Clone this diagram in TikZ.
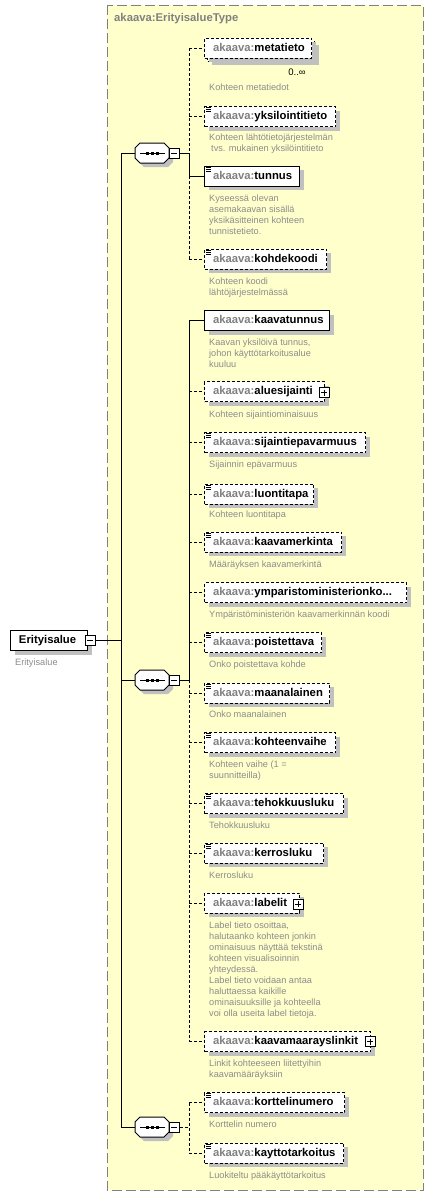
\documentclass[tikz,border=0pt]{standalone}
\usepackage{fontspec}
\setmainfont{Liberation Sans}
\usetikzlibrary{shadows,calc}
\definecolor{bgyellow}{RGB}{255,255,204}
\definecolor{bordergrey}{RGB}{128,128,128}
\definecolor{prefixc}{RGB}{128,128,128}
\definecolor{descc}{RGB}{140,140,140}
\definecolor{shadowc}{RGB}{192,192,192}
\tikzset{
  elbase/.style={draw=black, fill=white, anchor=west, minimum height=20pt, inner xsep=0pt, inner ysep=0pt,
    align=left, line width=1pt, text height=8.5pt, text depth=2.5pt,
    font=\fontsize{11.3}{13}\selectfont\bfseries},
  el/.style={elbase, drop shadow={shadow xshift=4pt, shadow yshift=-4pt, opacity=1, fill=shadowc}},
  opt/.style={dash pattern=on 3pt off 2pt},
  conn/.style={line width=1pt},
  desc/.style={anchor=north west, inner sep=0pt, align=left, text=descc, font=\fontsize{9.2}{11}\selectfont},
  plusbox/.style={draw, fill=white, line width=1pt, minimum size=10pt, inner sep=0pt,
    path picture={\draw[line width=1pt] ([xshift=2pt]path picture bounding box.west) -- ([xshift=-2pt]path picture bounding box.east);
      \draw[line width=1pt] ([yshift=-2pt]path picture bounding box.north) -- ([yshift=2pt]path picture bounding box.south);}},
  minusbox/.style={draw, fill=white, line width=1pt, minimum size=10pt, inner sep=0pt,
    path picture={\draw[line width=1pt] ([xshift=2pt]path picture bounding box.west) -- ([xshift=-2pt]path picture bounding box.east);}},
}
\newcommand\ak[1]{\mbox{\hspace*{8.5pt}{\color{prefixc}akaava:}#1}}
\newcommand\dstrut{\rule{0pt}{7pt}}
\newcommand\elm[5]{% name, cy, width, style, label
  \node[el,#4,text width=#3pt] (#1) at (204,#2) {\ak{#5}};
  \coordinate (b-#1) at (189,#2);
  \draw[conn,#4] (b-#1) -- (#1.west);
}
\newcommand\icn[1]{%
  \foreach \d in {1.5,3.5,5.5} \draw[line width=0.9pt] ($(#1.north west)+(2,\d)$) -- ++(5,0);
}
\newcommand\seqgrp[3]{%
  \begin{scope}[shift={(#2,#3)}]
    \fill[shadowc] (-13,-1) -- (-8,-6) -- (16,-6) -- (21,-1) -- (21,9) -- (16,14) -- (-8,14) -- (-13,9) -- cycle;
    \draw[line width=1pt, fill=white] (-17,-5) -- (-12,-10) -- (12,-10) -- (17,-5) -- (17,5) -- (12,10) -- (-12,10) -- (-17,5) -- cycle;
    \draw[line width=1pt] (-12,0) -- (13,0);
    \fill (-6.5,-1.5) rectangle ++(3,3);
    \fill (-1.5,-1.5) rectangle ++(3,3);
    \fill (3.5,-1.5) rectangle ++(3,3);
  \end{scope}
  \node[inner sep=0pt, minimum width=34pt, minimum height=20pt] (#1) at (#2,#3) {};
  \node[minusbox] (#1m) at (#2+22,#3) {};
}
\begin{document}
\begin{tikzpicture}[x=1pt,y=-1pt]
\fill[white] (0,0) rectangle (434,1197);
\useasboundingbox (0,0) rectangle (434,1197);
\draw[bordergrey, dash pattern=on 10pt off 4pt, fill=bgyellow, line width=1pt] (107,5) rectangle (423,1190);
\node[anchor=west, text=prefixc, inner sep=0pt, font=\fontsize{11.3}{13}\selectfont\bfseries] (title) at (114,19) {akaava:ErityisalueType};

% root
\node[el,text width=77pt] (root) at (10,640.5) {\mbox{\hspace*{8.5pt}Erityisalue}};
\node[minusbox] (rootm) at (90,640.5) {};
\node[desc] (d-root) at (15,658.5) {\dstrut Erityisalue};

% sequences
\seqgrp{s1}{152}{153}
\seqgrp{s2}{152}{680}
\seqgrp{s3}{152}{1127}
\coordinate (t1) at (121,153);
\coordinate (t2) at (121,680);
\coordinate (t3) at (121,1127);
\coordinate (tr) at (121,640.5);
\draw[conn] (t1) -- (t3);
\draw[conn] (t1) -- (s1.west);
\draw[conn] (t2) -- (s2.west);
\draw[conn] (t3) -- (s3.west);
\draw[conn] (rootm.east) -- (tr);
\coordinate (b1) at (189,153);
\coordinate (b2) at (189,680);
\coordinate (b3) at (189,1127);
\draw[conn] (s1m.east) -- (b1);
\draw[conn] (s2m.east) -- (b2);
\draw[conn,opt] (s3m.east) -- (b3);

% sequence 1
\node[elbase,opt,text width=107pt, drop shadow={shadow xshift=4pt, shadow yshift=-4pt, opacity=1, fill=shadowc}] (metatieto-back) at (207,51) {};
\elm{metatieto}{48}{107}{opt}{metatieto}
\node[inner sep=0pt, font=\fontsize{9.5}{11}\selectfont] (mult) at (297,72) {0..∞};
\node[desc] (d-metatieto) at (209,83.5) {\dstrut Kohteen metatiedot};

\elm{yksilointitieto}{116.7}{131}{opt}{yksilointitieto}
\icn{yksilointitieto}
\node[desc] (d-yksilointitieto) at (209,133.5) {\dstrut Kohteen lähtötietojärjestelmän\\\hspace*{2pt}tvs. mukainen yksilöintitieto};

\elm{tunnus}{176}{95}{solid}{tunnus}
\icn{tunnus}
\node[desc] (d-tunnus) at (209,194.5) {\dstrut Kyseessä olevan\\asemakaavan sisällä\\yksikäsitteinen kohteen\\tunnistetieto.};

\elm{kohdekoodi}{259.3}{122}{opt}{kohdekoodi}
\icn{kohdekoodi}
\node[desc] (d-kohdekoodi) at (209,277.2) {\dstrut Kohteen koodi\\lähtöjärjestelmässä};

\draw[conn,opt] (b-metatieto) -- (b1);
\draw[conn] (b1) -- (b-tunnus);
\draw[conn,opt] (b-tunnus) -- (b-kohdekoodi);

% sequence 2
\elm{kaavatunnus}{320.7}{125}{solid}{kaavatunnus}
\node[desc] (d-kaavatunnus) at (209,338.2) {\dstrut Kaavan yksilöivä tunnus,\\johon käyttötarkoitusalue\\kuuluu};

\elm{aluesijainti}{391.7}{120}{opt}{aluesijainti}
\node[plusbox] (aluesijainti-p) at ($(aluesijainti.east)+(-1,1)$) {};
\node[desc] (d-aluesijainti) at (209,410.5) {\dstrut Kohteen sijaintiominaisuus};

\elm{sijaintiepavarmuus}{442.7}{161}{opt}{sijaintiepavarmuus}
\icn{sijaintiepavarmuus}
\node[desc] (d-sijaintiepavarmuus) at (209,459.8) {\dstrut Sijainnin epävarmuus};

\elm{luontitapa}{494}{109}{opt}{luontitapa}
\icn{luontitapa}
\node[desc] (d-luontitapa) at (209,509.8) {\dstrut Kohteen luontitapa};

\elm{kaavamerkinta}{542}{137}{opt}{kaavamerkinta}
\icn{kaavamerkinta}
\node[desc] (d-kaavamerkinta) at (209,559.8) {\dstrut Määräyksen kaavamerkintä};

\elm{ymparisto}{592.5}{202}{opt}{ymparistoministerionko...}
\node[desc] (d-ymparisto) at (209,610.5) {\dstrut Ympäristöministeriön kaavamerkinnän koodi};

\elm{poistettava}{642.7}{117}{opt}{poistettava}
\icn{poistettava}
\node[desc] (d-poistettava) at (209,660.5) {\dstrut Onko poistettava kohde};

\elm{maanalainen}{693}{125}{opt}{maanalainen}
\icn{maanalainen}
\node[desc] (d-maanalainen) at (209,709.8) {\dstrut Onko maanalainen};

\elm{kohteenvaihe}{742.5}{131}{opt}{kohteenvaihe}
\icn{kohteenvaihe}
\node[desc] (d-kohteenvaihe) at (209,760.5) {\dstrut Kohteen vaihe (1 =\\suunnitteilla)};

\elm{tehokkuusluku}{803.7}{139}{opt}{tehokkuusluku}
\icn{tehokkuusluku}
\node[desc] (d-tehokkuusluku) at (209,821.2) {\dstrut Tehokkuusluku};

\elm{kerrosluku}{853}{119}{opt}{kerrosluku}
\icn{kerrosluku}
\node[desc] (d-kerrosluku) at (209,871.2) {\dstrut Kerrosluku};

\elm{labelit}{903}{95}{opt}{labelit}
\node[plusbox] (labelit-p) at ($(labelit.east)+(-2,1)$) {};
\node[desc] (d-labelit) at (209,921.5) {\dstrut Label tieto osoittaa,\\halutaanko kohteen jonkin\\ominaisuus näyttää tekstinä\\kohteen visualisoinnin\\yhteydessä.\\Label tieto voidaan antaa\\haluttaessa kaikille\\ominaisuuksille ja kohteella\\voi olla useita label tietoja.};

\elm{kaavamaarayslinkit}{1041.7}{166}{opt}{kaavamaarayslinkit}
\node[plusbox] (kaavamaarayslinkit-p) at ($(kaavamaarayslinkit.east)+(-1,0)$) {};
\node[desc] (d-kaavamaarayslinkit) at (209,1059.5) {\dstrut Linkit kohteeseen liitettyihin\\kaavamääräyksiin};

\draw[conn] (b-kaavatunnus) -- (b2);
\draw[conn,opt] (b2) -- (b-kaavamaarayslinkit);

% sequence 3
\elm{korttelinumero}{1102.7}{140}{opt}{korttelinumero}
\icn{korttelinumero}
\node[desc] (d-korttelinumero) at (209,1119.8) {\dstrut Korttelin numero};

\elm{kayttotarkoitus}{1153}{139}{opt}{kayttotarkoitus}
\icn{kayttotarkoitus}
\node[desc] (d-kayttotarkoitus) at (209,1171.2) {\dstrut Luokiteltu pääkäyttötarkoitus};

\draw[conn,opt] (b-korttelinumero) -- (b-kayttotarkoitus);
\end{tikzpicture}
\end{document}
